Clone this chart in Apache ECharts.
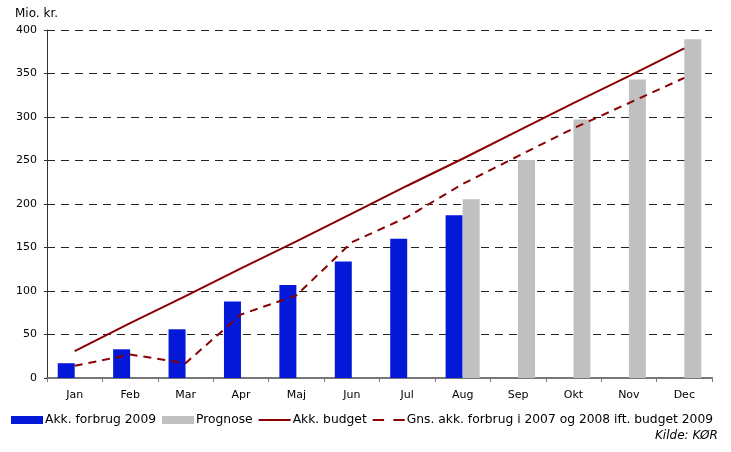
<!DOCTYPE html>
<html><head><meta charset="utf-8">
<script src="https://cdn.jsdelivr.net/npm/echarts@6/dist/echarts.min.js"></script>
<style>html,body{margin:0;padding:0;background:#fff}#c{width:731px;height:452px}</style>
</head><body><div id="c"></div>
<script>
const categories = ['Jan','Feb','Mar','Apr','Maj','Jun','Jul','Aug','Sep','Okt','Nov','Dec'];
const forbrug2009 = [17, 33, 56, 88, 107, 134, 160, 187, '-', '-', '-', '-'];
const prognose = ['-', '-', '-', '-', '-', '-', '-', 205.5, 250.5, 297, 343, 389.5];
const budget = [31, 63, 94, 126, 157, 189, 221, 252, 284, 316, 347, 379];
const gnsForbrug = [14, 27, 17, 73, 95, 156, 185, 223, 255, 287, 316, 345];
const yTicks = {min: 0, max: 400, interval: 50};

const font = 'DejaVu Sans';
const chart = echarts.init(document.getElementById('c'), null, {renderer: 'canvas'});
chart.setOption({
  animation: false,
  backgroundColor: '#fff',
  textStyle: {fontFamily: font},
  grid: {left: 47, right: 19, top: 30, bottom: 74},
  title: {text: 'Mio. kr.', left: 15, top: 8, padding: 0, textStyle: {fontFamily: font, fontSize: 12, fontWeight: 'normal', color: '#000'}},
  legend: {
    left: 11, top: 414, padding: 0, itemGap: 6, itemWidth: 32, itemHeight: 8,
    textStyle: {fontFamily: font, fontSize: 12.3, color: '#000', padding: [0,0,0,-3]},
    data: [
      {name: 'Akk. forbrug 2009', icon: 'rect'},
      {name: 'Prognose', icon: 'rect'},
      {name: 'Akk. budget', icon: 'path://M0,0h32v2h-32z'},
      {name: 'Gns. akk. forbrug i 2007 og 2008 ift. budget 2009', icon: 'path://M0,0h11v2h-11z M20,0h11v2h-11z'}
    ]
  },
  graphic: [{type: 'text', left: 655, top: 430, style: {text: 'Kilde: KØR', font: 'italic 12px "DejaVu Sans"', fill: '#000'}}],
  xAxis: {
    type: 'category', data: categories, boundaryGap: true,
    axisLine: {lineStyle: {color: '#777', width: 2}},
    axisTick: {show: true, length: 4, lineStyle: {color: '#777'}},
    axisLabel: {color: '#000', fontSize: 11, margin: 12, fontFamily: font}
  },
  yAxis: {
    type: 'value', min: yTicks.min, max: yTicks.max, interval: yTicks.interval,
    axisLine: {show: true, lineStyle: {color: '#333', width: 1}},
    axisTick: {show: true, length: 3, lineStyle: {color: '#333'}},
    axisLabel: {color: '#000', fontSize: 11, margin: 10, fontFamily: font},
    splitLine: {lineStyle: {color: '#222', type: [8, 6], width: 1}}
  },
  series: [
    {name: 'Akk. forbrug 2009', type: 'bar', data: forbrug2009, barWidth: 17, barGap: '0%', itemStyle: {color: '#0418D8'}},
    {name: 'Prognose', type: 'bar', data: prognose, barWidth: 17, barGap: '0%', itemStyle: {color: '#C0C0C0'}},
    {name: 'Akk. budget', type: 'line', data: budget, symbol: 'none', lineStyle: {color: '#8B0000', width: 2}, itemStyle: {color: '#8B0000'}},
    {name: 'Gns. akk. forbrug i 2007 og 2008 ift. budget 2009', type: 'line', data: gnsForbrug, symbol: 'none', lineStyle: {color: '#8B0000', width: 2, type: [8, 6]}, itemStyle: {color: '#8B0000'}}
  ]
});
</script></body></html>
